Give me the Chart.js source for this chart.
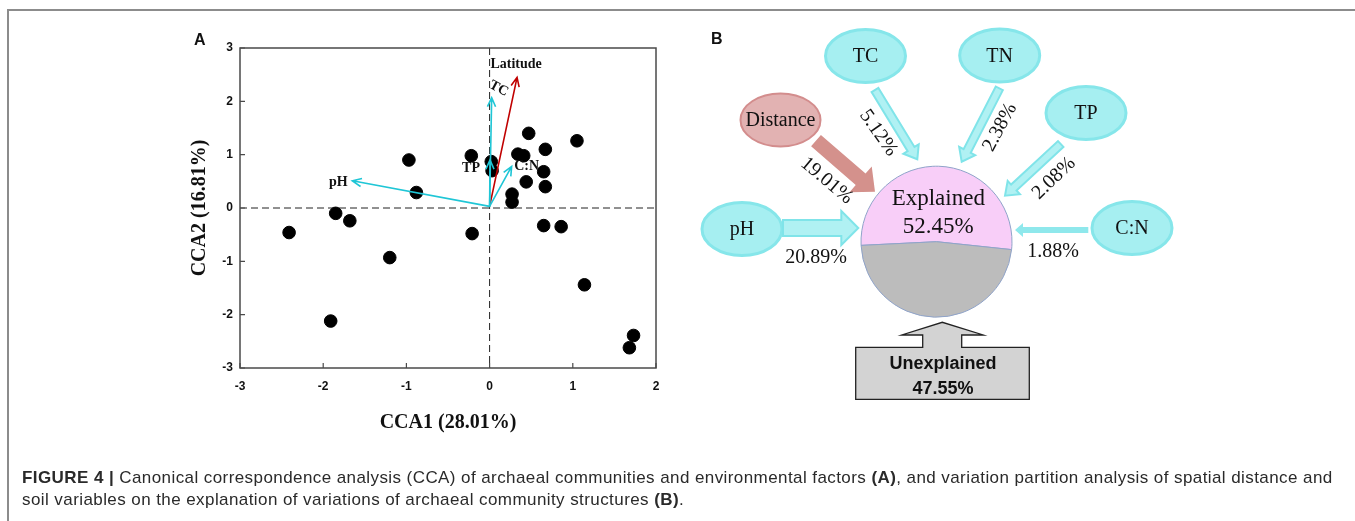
<!DOCTYPE html>
<html>
<head>
<meta charset="utf-8">
<script src="https://cdn.jsdelivr.net/npm/chart.js@4.4.1/dist/chart.umd.min.js"></script>
<style>
html, body { margin: 0; padding: 0; background: #fff; }
#page { position: relative; width: 1355px; height: 521px; overflow: hidden; }
#frame { position: absolute; left: 7px; top: 9px; width: 1348px; height: 512px;
  border-top: 2px solid #8c8c8c; border-left: 2px solid #8c8c8c; box-sizing: border-box; }
canvas { position: absolute; left: 0; top: 0; }
#caption { position: absolute; left: 22px; top: 467px; font: 17px "Liberation Sans", Arial, sans-serif;
  letter-spacing: 0.42px; line-height: 22px; color: #2a2a2a; white-space: nowrap; }
</style>
</head>
<body>
<div id="page">
  <div id="frame"></div>
  <canvas id="cca" width="680" height="445"></canvas>
  <canvas id="vpa" width="1355" height="521"></canvas>
  <div id="caption"><b>FIGURE 4 |</b> Canonical correspondence analysis (CCA) of archaeal communities and environmental factors <b>(A)</b>, and variation partition analysis of spatial distance and<br>soil variables on the explanation of variations of archaeal community structures <b>(B)</b>.</div>
</div>
<script>
// Panel A: sample scores
const siteX = [0.47, 1.05, 0.67, 0.34, 0.41, -0.22, -0.97, 0.02, 0.03, 0.65, 0.44, 0.67, -0.88, 0.27, 0.27,
  -1.85, -1.68, -2.41, -0.21, 0.65, 0.86, -1.20, 1.14, -1.91, 1.73, 1.68];
const siteY = [1.40, 1.26, 1.10, 1.01, 0.98, 0.98, 0.90, 0.87, 0.70, 0.68, 0.49, 0.40, 0.29, 0.26, 0.11,
  -0.10, -0.24, -0.46, -0.48, -0.33, -0.35, -0.93, -1.44, -2.12, -2.39, -2.62];
// environmental vectors
const envNames = ['Latitude', 'TC', 'TP', 'C:N', 'pH'];
const envX = [0.33, 0.025, 0.005, 0.265, -1.65];
const envY = [2.45, 2.07, 0.90, 0.78, 0.51];
const xTicks = [-3, -2, -1, 0, 1, 2];
const yTicks = [-3, -2, -1, 0, 1, 2, 3];

// Panel B: variation partitioning
const vpFactors = ['Distance', 'TC', 'TN', 'TP', 'C:N', 'pH'];
const vpValues = [19.01, 5.12, 2.38, 2.08, 1.88, 20.89];
const partLabels = ['Explained', 'Unexplained'];
const partValues = [52.45, 47.55];

const serif = '"Liberation Serif", "Times New Roman", serif';
const sans = '"Liberation Sans", Arial, sans-serif';

function arrowLine(ctx, x1, y1, x2, y2, color) {
  const a = Math.atan2(y2 - y1, x2 - x1), h = 10, w = 0.42;
  ctx.strokeStyle = color;
  ctx.lineWidth = 1.6;
  ctx.beginPath();
  ctx.moveTo(x1, y1); ctx.lineTo(x2, y2);
  ctx.moveTo(x2 - h * Math.cos(a - w), y2 - h * Math.sin(a - w));
  ctx.lineTo(x2, y2);
  ctx.lineTo(x2 - h * Math.cos(a + w), y2 - h * Math.sin(a + w));
  ctx.stroke();
}

// label offsets (px) from each vector tip, and rotation
const envLabelStyle = [
  { dx: -1, dy: -13, rot: 0 },
  { dx: 7, dy: -9, rot: 28 },
  { dx: -19, dy: 8, rot: 0 },
  { dx: 15, dy: 0, rot: 0 },
  { dx: -14, dy: 2, rot: 0 }
];

const ccaPlugin = {
  id: 'ccaDecor',
  beforeDatasetsDraw(chart) {
    const { ctx, chartArea: a, scales: { x, y } } = chart;
    ctx.save();
    ctx.strokeStyle = '#222';
    ctx.lineWidth = 1;
    ctx.setLineDash([7, 4]);
    const x0 = x.getPixelForValue(0), y0 = y.getPixelForValue(0);
    ctx.beginPath();
    ctx.moveTo(x0, a.top); ctx.lineTo(x0, a.bottom);
    ctx.moveTo(a.left, y0); ctx.lineTo(a.right, y0);
    ctx.stroke();
    ctx.restore();
  },
  afterDatasetsDraw(chart) {
    const { ctx, chartArea: a, scales: { x, y } } = chart;
    ctx.save();
    const ox = x.getPixelForValue(0), oy = y.getPixelForValue(0.03);
    envNames.forEach((n, i) => {
      const tx = x.getPixelForValue(envX[i]), ty = y.getPixelForValue(envY[i]);
      arrowLine(ctx, ox, oy, tx, ty, i === 0 ? '#c00000' : '#1fc6d6');
      const s = envLabelStyle[i];
      ctx.save();
      ctx.translate(tx + s.dx, ty + s.dy);
      ctx.rotate(s.rot * Math.PI / 180);
      ctx.font = 'bold 14px ' + serif;
      ctx.fillStyle = '#111';
      ctx.textAlign = 'center';
      ctx.textBaseline = 'middle';
      ctx.fillText(n, 0, 0);
      ctx.restore();
    });
    // frame
    ctx.strokeStyle = '#4a4a4a';
    ctx.lineWidth = 1.5;
    ctx.strokeRect(a.left, a.top, a.right - a.left, a.bottom - a.top);
    // inward ticks
    ctx.lineWidth = 1.2;
    ctx.beginPath();
    xTicks.forEach(v => { const p = x.getPixelForValue(v); ctx.moveTo(p, a.bottom); ctx.lineTo(p, a.bottom - 5); });
    yTicks.forEach(v => { const p = y.getPixelForValue(v); ctx.moveTo(a.left, p); ctx.lineTo(a.left + 5, p); });
    ctx.stroke();
    ctx.font = 'bold 16px ' + sans;
    ctx.fillStyle = '#111';
    ctx.textBaseline = 'alphabetic';
    ctx.fillText('A', 194, 45);
    ctx.restore();
  }
};

new Chart(document.getElementById('cca'), {
  type: 'scatter',
  data: {
    datasets: [{
      data: siteX.map((v, i) => ({ x: v, y: siteY[i] })),
      backgroundColor: '#000',
      borderColor: '#000',
      pointRadius: 6.3,
      pointHoverRadius: 6.3
    }]
  },
  options: {
    responsive: false,
    animation: false,
    devicePixelRatio: 1,
    layout: { padding: { left: 188, right: 24, top: 48, bottom: 10 } },
    plugins: { legend: { display: false }, tooltip: { enabled: false } },
    scales: {
      x: {
        min: -3, max: 2,
        afterFit: s => { s.height = 67; },
        afterBuildTicks: s => { s.ticks = xTicks.map(v => ({ value: v })); },
        grid: { display: false, drawTicks: false },
        border: { display: false },
        ticks: { padding: 11, color: '#111', font: { family: sans, size: 12, weight: 'bold' } },
        title: { display: true, text: 'CCA1 (28.01%)', padding: 0, color: '#111',
          font: { family: serif, size: 20, weight: 'bold' } }
      },
      y: {
        min: -3, max: 3,
        afterFit: s => { s.width = 52; },
        afterBuildTicks: s => { s.ticks = yTicks.map(v => ({ value: v })); },
        grid: { display: false, drawTicks: false },
        border: { display: false },
        ticks: { padding: 7, color: '#111', font: { family: sans, size: 12, weight: 'bold' } },
        title: { display: true, text: 'CCA2 (16.81%)', padding: 0, color: '#111',
          font: { family: serif, size: 20, weight: 'bold' } }
      }
    }
  },
  plugins: [ccaPlugin]
});

// Panel B layout (page pixels), same order as vpFactors
const vpLayout = [
  { ex: 780.5, ey: 120, red: true, ax1: 816, ay1: 140.7, ax2: 875, ay2: 191.7, sw: 15, hw: 34, hl: 19,
    lx: 826.7, ly: 180.7, rot: 40 },
  { ex: 865.5, ey: 56, ax1: 875, ay1: 90, ax2: 917.3, ay2: 159.3, sw: 8, hw: 18, hl: 12,
    lx: 878.3, ly: 133, rot: 55 },
  { ex: 999.7, ey: 55.5, ax1: 999.3, ay1: 88.3, ax2: 961.7, ay2: 161.7, sw: 8, hw: 18, hl: 12,
    lx: 1000, ly: 127.3, rot: -62 },
  { ex: 1086, ey: 113, ax1: 1060.7, ay1: 144, ax2: 1005, ay2: 195.7, sw: 8, hw: 18, hl: 12,
    lx: 1054, ly: 178.3, rot: -44 },
  { ex: 1132, ey: 228, ax1: 1088.3, ay1: 230, ax2: 1015, ay2: 230, sw: 6, hw: 14, hl: 8, solid: true,
    lx: 1053, ly: 252, rot: 0 },
  { ex: 742, ey: 229, ax1: 783, ay1: 228, ax2: 858.3, ay2: 228, sw: 16, hw: 34, hl: 17,
    lx: 816, ly: 258, rot: 0 }
];

function blockArrow(ctx, x1, y1, x2, y2, sw, hw, hl) {
  const a = Math.atan2(y2 - y1, x2 - x1), len = Math.hypot(x2 - x1, y2 - y1);
  ctx.save();
  ctx.translate(x1, y1);
  ctx.rotate(a);
  ctx.beginPath();
  ctx.moveTo(0, -sw / 2);
  ctx.lineTo(len - hl, -sw / 2);
  ctx.lineTo(len - hl, -hw / 2);
  ctx.lineTo(len, 0);
  ctx.lineTo(len - hl, hw / 2);
  ctx.lineTo(len - hl, sw / 2);
  ctx.lineTo(0, sw / 2);
  ctx.closePath();
  ctx.restore();
}

const vpaPlugin = {
  id: 'vpaDecor',
  afterDraw(chart) {
    const ctx = chart.ctx;
    ctx.save();
    ctx.textAlign = 'center';
    ctx.textBaseline = 'middle';
    vpFactors.forEach((f, i) => {
      const L = vpLayout[i];
      // ellipse
      ctx.beginPath();
      ctx.ellipse(L.ex, L.ey, 40, 26.5, 0, 0, Math.PI * 2);
      ctx.fillStyle = L.red ? '#e2b2b2' : '#a6eff1';
      ctx.fill();
      ctx.lineWidth = L.red ? 2 : 3;
      ctx.strokeStyle = L.red ? '#d38d8d' : '#86e6ea';
      ctx.stroke();
      ctx.fillStyle = '#111';
      ctx.font = '20px ' + serif;
      ctx.fillText(f, L.ex, L.ey + 1);
      // arrow
      blockArrow(ctx, L.ax1, L.ay1, L.ax2, L.ay2, L.sw, L.hw, L.hl);
      if (L.red) {
        ctx.fillStyle = '#d4918c';
        ctx.fill();
      } else if (L.solid) {
        ctx.fillStyle = '#8fe8ec';
        ctx.fill();
      } else {
        ctx.fillStyle = '#b0f1f3';
        ctx.fill();
        ctx.lineWidth = 2;
        ctx.strokeStyle = '#80e4e9';
        ctx.stroke();
      }
      // value
      ctx.save();
      ctx.translate(L.lx, L.ly);
      ctx.rotate(L.rot * Math.PI / 180);
      ctx.fillStyle = '#111';
      ctx.font = '20px ' + serif;
      ctx.fillText(vpValues[i].toFixed(2) + '%', 0, 0);
      ctx.restore();
    });
    // explained text
    ctx.fillStyle = '#111';
    ctx.font = '23px ' + serif;
    ctx.fillText(partLabels[0], 938.3, 199);
    ctx.fillText(partValues[0].toFixed(2) + '%', 938.3, 227);
    // unexplained callout
    ctx.beginPath();
    ctx.moveTo(855.7, 347.3);
    ctx.lineTo(922.7, 347.3);
    ctx.lineTo(922.7, 335);
    ctx.lineTo(901.7, 335);
    ctx.lineTo(942.3, 322.3);
    ctx.lineTo(983.3, 335);
    ctx.lineTo(961.7, 335);
    ctx.lineTo(961.7, 347.3);
    ctx.lineTo(1029.3, 347.3);
    ctx.lineTo(1029.3, 399.3);
    ctx.lineTo(855.7, 399.3);
    ctx.closePath();
    ctx.fillStyle = '#d3d3d3';
    ctx.fill();
    ctx.lineWidth = 1.3;
    ctx.strokeStyle = '#222';
    ctx.stroke();
    ctx.fillStyle = '#111';
    ctx.font = 'bold 18px ' + sans;
    ctx.fillText(partLabels[1], 943, 364);
    ctx.fillText(partValues[1].toFixed(2) + '%', 943, 389);
    ctx.font = 'bold 16px ' + sans;
    ctx.textAlign = 'left';
    ctx.textBaseline = 'alphabetic';
    ctx.fillText('B', 711, 44);
    ctx.restore();
  }
};

new Chart(document.getElementById('vpa'), {
  type: 'pie',
  data: {
    labels: partLabels,
    datasets: [{
      data: partValues,
      backgroundColor: ['#f8cef8', '#bcbcbc'],
      borderColor: '#8fa3c9',
      borderWidth: 1
    }]
  },
  options: {
    responsive: false,
    animation: false,
    devicePixelRatio: 1,
    rotation: -92.8,
    layout: { padding: { left: 860.5, right: 342.5, top: 165.7, bottom: 203.3 } },
    plugins: { legend: { display: false }, tooltip: { enabled: false } }
  },
  plugins: [vpaPlugin]
});
</script>
</body>
</html>
